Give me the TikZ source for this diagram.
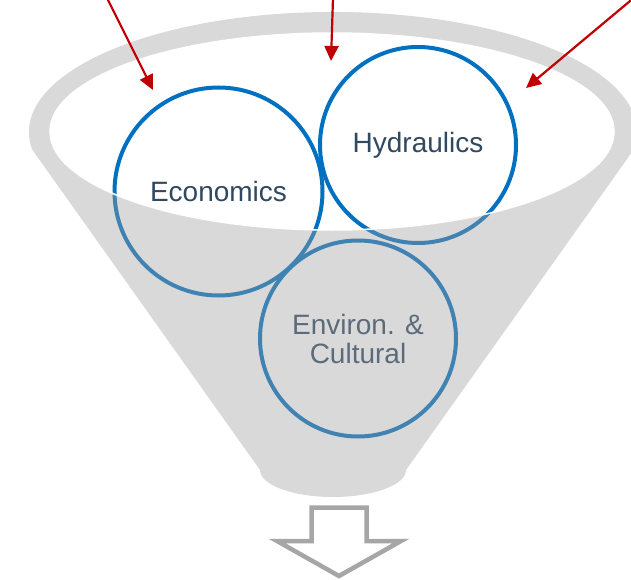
\documentclass[tikz,border=0pt]{standalone}
\usepackage{fontspec}
\setmainfont{Liberation Sans}
\usetikzlibrary{arrows.meta}
\definecolor{ringblue}{RGB}{0,112,192}
\definecolor{txtdark}{RGB}{48,72,96}
\definecolor{funnelgray}{RGB}{160,160,160}
\definecolor{arrred}{RGB}{192,0,0}
\definecolor{outgray}{RGB}{166,166,166}
\tikzset{
  ring/.style={circle, draw=ringblue, line width=4pt, text=txtdark, align=center,
    font=\fontsize{28}{29}\selectfont, inner sep=0pt},
  redarrow/.style={draw=arrred, line width=2.2pt, -{Triangle[length=15pt,width=14pt]}},
  downarrow/.style={draw=outgray, line width=4.5pt, fill=white, line join=miter},
}
\begin{document}
\begin{tikzpicture}[x=1pt,y=-1pt]
\useasboundingbox (0,0) rectangle (631,580);
% circles (drawn first, the funnel lies over them)
\node[ring, minimum size=208pt] (eco) at (218.5,191.5) {Economics};
\node[ring, minimum size=196pt] (hyd) at (418,145) {Hydraulics};
\node[ring, minimum size=196pt] (env) at (358,338.5) {Environ. \&\\Cultural};
% funnel with see-through mouth
\fill[funnelgray, fill opacity=0.4, even odd rule]
  (32.4,149.9) arc[start angle=171.4, end angle=368.6, x radius=304, y radius=120]
  -- (406,470) arc[start angle=0, end angle=180, x radius=73, y radius=27] -- cycle
  (332,131.5) ellipse[x radius=282, y radius=98.5];
\draw[white, line width=1.5pt] (332,131.5) ellipse[x radius=282, y radius=98.5];
% red arrows
\coordinate (s1) at (107,-2);
\coordinate (t1) at (153,90);
\coordinate (s2) at (333,-2);
\coordinate (t2) at (331,61);
\coordinate (s3) at (636,-4);
\coordinate (t3) at (526,88);
\draw[redarrow] (s1) -- (t1);
\draw[redarrow] (s2) -- (t2);
\draw[redarrow] (s3) -- (t3);
% output block arrow
\draw[downarrow] (311.5,507.5) -- (366.5,507.5) -- (366.5,541) -- (401,541)
  -- (339,576) -- (277,541) -- (311.5,541) -- cycle;
\end{tikzpicture}
\end{document}
